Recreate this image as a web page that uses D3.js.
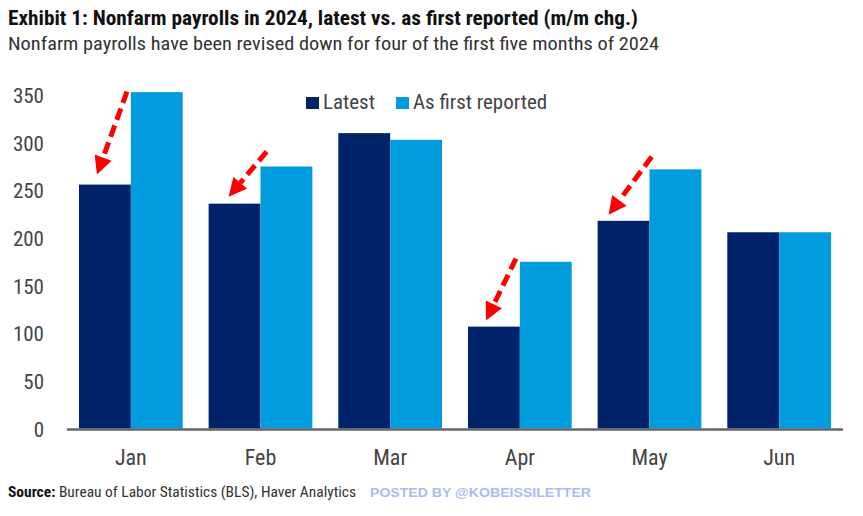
<!DOCTYPE html>
<html>
<head>
<meta charset="utf-8">
<script src="https://cdn.jsdelivr.net/npm/d3@7"></script>
<style>
  body { margin: 0; background: #fff; }
  svg { display: block; font-family: "Liberation Sans Narrow", "Roboto Condensed", "DejaVu Sans Condensed", "Roboto", sans-serif; }
</style>
</head>
<body>
<svg id="chart" width="863" height="516"></svg>
<script>
(function (d3) {
    "use strict";

    /***** Data *****/
    const months = ["Jan", "Feb", "Mar", "Apr", "May", "Jun"];
    const latest = [256, 236, 310, 107, 218, 206];
    const firstReported = [353, 275, 303, 175, 272, 206];
    const seriesNames = ["Latest", "As first reported"];
    const yTicks = [0, 50, 100, 150, 200, 250, 300, 350];
    // months where the number was revised down (arrows)
    const revisedMonths = ["Jan", "Feb", "Apr", "May"];

    /***** Layout *****/
    const plot = { left: 66, right: 844, top: 95, bottom: 428.6 };
    const colors = ["#00236A", "#009CDE"];

    // arrow layout (offsets in px from latest bar's top-left corner)
    const arrowLayout = {
        Jan: { tx: 18, ty: -10, sx: 48, sy: -93 },
        Feb: { tx: 20, ty: -7, sx: 58, sy: -52 },
        Apr: { tx: 18, ty: -6, sx: 48, sy: -68 },
        May: { tx: 11, ty: -6, sx: 54, sy: -64 }
    };

    const svg = d3.select("#chart");

    /***** Scales *****/
    const x = d3.scaleBand().domain(months).range([plot.left, plot.right])
        .paddingInner(0.2).paddingOuter(0.1);
    const xSub = d3.scaleBand().domain([0, 1]).range([0, x.bandwidth()]);
    const y = d3.scaleLinear().domain([0, 350]).range([plot.bottom, plot.top]);

    /***** Title *****/
    svg.append("text")
        .attr("x", 8).attr("y", 25)
        .attr("font-weight", "bold").attr("font-size", 20).attr("fill", "#111")
        .attr("textLength", 630).attr("lengthAdjust", "spacingAndGlyphs")
        .text("Exhibit 1: Nonfarm payrolls in 2024, latest vs. as first reported (m/m chg.)");
    svg.append("text")
        .attr("x", 8).attr("y", 50)
        .attr("font-size", 19).attr("fill", "#333")
        .attr("textLength", 651).attr("lengthAdjust", "spacingAndGlyphs")
        .text("Nonfarm payrolls have been revised down for four of the first five months of 2024");

    /***** Y axis (labels only) *****/
    const yAxis = svg.append("g")
        .attr("transform", "translate(44,0)")
        .call(d3.axisLeft(y).tickValues(yTicks).tickSize(0).tickPadding(0))
        .attr("font-family", null).attr("font-size", null);
    yAxis.select(".domain").remove();
    yAxis.selectAll("text")
        .attr("font-size", 21).attr("fill", "#444").attr("dy", "0.36em");

    /***** Bars *****/
    const rows = months.map((m, i) => ({ month: m, values: [latest[i], firstReported[i]] }));
    const groups = svg.append("g").selectAll("g")
        .data(rows).join("g")
        .attr("transform", d => "translate(" + x(d.month) + ",0)");
    groups.selectAll("rect")
        .data(d => d.values.map((v, k) => ({ k: k, v: v })))
        .join("rect")
        .attr("x", d => xSub(d.k))
        .attr("width", xSub.bandwidth())
        .attr("y", d => y(d.v))
        .attr("height", d => y(0) - y(d.v))
        .attr("fill", d => colors[d.k]);

    /***** X axis *****/
    const xAxis = svg.append("g")
        .attr("transform", "translate(0," + (plot.bottom + 1) + ")")
        .call(d3.axisBottom(x).tickSize(0).tickPadding(20))
        .attr("font-family", null).attr("font-size", null);
    xAxis.select(".domain").attr("stroke", "#666").attr("stroke-width", 2.5)
        .attr("d", "M" + (plot.left + 1) + ",0H" + (plot.right - 1));
    xAxis.selectAll("text")
        .attr("font-size", 22).attr("fill", "#444");

    /***** Legend *****/
    const legend = svg.append("g").attr("transform", "translate(306,97)");
    const legendX = [0, 90];
    seriesNames.forEach((name, k) => {
        legend.append("rect")
            .attr("x", legendX[k]).attr("y", 0)
            .attr("width", 13).attr("height", 12)
            .attr("fill", colors[k]);
        legend.append("text")
            .attr("x", legendX[k] + 17).attr("y", 12)
            .attr("font-size", 21).attr("fill", "#444")
            .text(name);
    });

    /***** Arrows *****/
    const defs = svg.append("defs");
    defs.append("marker")
        .attr("id", "head").attr("viewBox", "0 0 10 10")
        .attr("refX", 10).attr("refY", 5)
        .attr("markerUnits", "userSpaceOnUse")
        .attr("markerWidth", 20).attr("markerHeight", 18)
        .attr("orient", "auto")
        .append("path").attr("d", "M0,0L10,5L0,10Z").attr("fill", "#FF0000");

    revisedMonths.forEach(m => {
        const i = months.indexOf(m);
        const a = arrowLayout[m];
        const bx = x(m), by = y(latest[i]);
        const tx = bx + a.tx, ty = by + a.ty;
        const sx = bx + a.sx, sy = by + a.sy;
        const len = Math.hypot(tx - sx, ty - sy);
        const ux = (tx - sx) / len, uy = (ty - sy) / len;
        // dashed shaft ends where the head starts
        svg.append("line")
            .attr("x1", sx).attr("y1", sy)
            .attr("x2", tx - ux * 18).attr("y2", ty - uy * 18)
            .attr("stroke", "#FF0000").attr("stroke-width", 5)
            .attr("stroke-dasharray", "12,6");
        svg.append("path")
            .attr("d", "M" + (tx - ux * 20) + "," + (ty - uy * 20) + "L" + tx + "," + ty)
            .attr("stroke", "none").attr("fill", "none")
            .attr("marker-end", "url(#head)");
    });

    /***** Source *****/
    const src = svg.append("text").attr("x", 8).attr("y", 497).attr("font-size", 15).attr("fill", "#333")
        .attr("textLength", 348).attr("lengthAdjust", "spacingAndGlyphs");
    src.append("tspan").attr("font-weight", "bold").attr("fill", "#111").text("Source:");
    src.append("tspan").text(" Bureau of Labor Statistics (BLS), Haver Analytics");
    svg.append("text")
        .attr("x", 370).attr("y", 497)
        .attr("font-family", "Liberation Sans, Arial, sans-serif")
        .attr("font-weight", "bold").attr("font-size", 13).attr("fill", "#A9BCF2")
        .attr("textLength", 221).attr("lengthAdjust", "spacingAndGlyphs")
        .text("POSTED BY @KOBEISSILETTER");
})(d3);
</script>
</body>
</html>
